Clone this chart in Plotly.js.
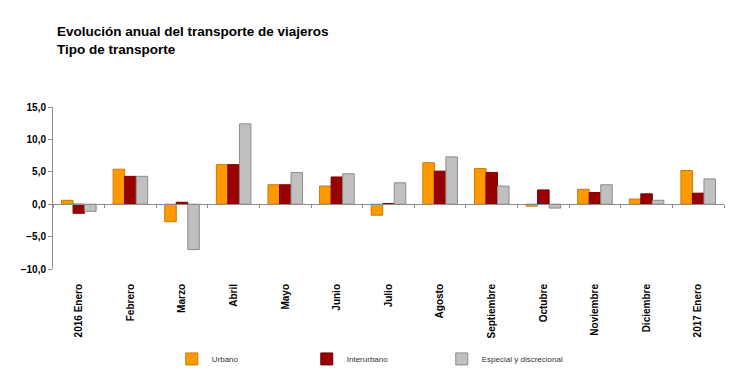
<!DOCTYPE html>
<html>
<head>
<meta charset="utf-8">
<script src="https://cdn.plot.ly/plotly-3.0.1.min.js"></script>
<style>html,body{margin:0;padding:0;background:#fff;}#chart{width:750px;height:386px;}</style>
</head>
<body>
<div id="chart"></div>
<script>
var categories = ["2016 Enero","Febrero","Marzo","Abril","Mayo","Junio","Julio","Agosto","Septiembre","Octubre","Noviembre","Diciembre","2017 Enero"];
var urbano      = [0.6, 5.4, -2.7, 6.1, 3.0, 2.8, -1.7, 6.4, 5.5, -0.3, 2.3, 0.8, 5.2];
var interurbano = [-1.4, 4.3, 0.3, 6.1, 3.0, 4.2, 0.1, 5.1, 4.9, 2.2, 1.8, 1.6, 1.7];
var especial    = [-1.1, 4.3, -7.0, 12.4, 4.9, 4.7, 3.3, 7.3, 2.8, -0.6, 3.0, 0.6, 3.9];
var seriesNames = ["Urbano", "Interurbano", "Especial y discrecional"];
var yTicks = [-10, -5, 0, 5, 10, 15];

var FONT = "Liberation Sans, Arial, sans-serif";

function barTrace(name, vals, fill, edge) {
  return {
    type: "bar", name: name, x: categories, y: vals,
    marker: {color: fill, line: {color: edge, width: 1}},
    hoverinfo: "x+y+name"
  };
}

var data = [
  barTrace(seriesNames[0], urbano, "#FF9900", "#C77A0A"),
  barTrace(seriesNames[1], interurbano, "#990000", "#7A0000"),
  barTrace(seriesNames[2], especial, "#C0C0C0", "#8C8C8C"),
  {type: "scatter", mode: "markers", x: categories, y: categories.map(function(){return null;}),
   xaxis: "x2", yaxis: "y", showlegend: false, hoverinfo: "skip"}
];

var layout = {
  width: 750, height: 386,
  paper_bgcolor: "#ffffff", plot_bgcolor: "#ffffff",
  separators: ",.",
  font: {family: FONT, color: "#000000"},
  margin: {l: 53, r: 26, t: 107, b: 115, pad: 0},
  title: {
    text: "Evolución anual del transporte de viajeros<br>Tipo de transporte",
    font: {family: FONT, size: 13.5, color: "#000000", weight: "bold"},
    xref: "container", yref: "container",
    x: 57/750, xanchor: "left",
    y: 1 - 36/386, yanchor: "top"
  },
  barmode: "group",
  bargap: 0.33, bargroupgap: 0,
  xaxis: {
    type: "category", categoryarray: categories, categoryorder: "array",
    range: [-0.5, 12.5],
    showline: false, zeroline: false, showgrid: false,
    ticks: "", tickangle: -90,
    ticklabelstandoff: 12,
    tickfont: {family: FONT, size: 10, color: "#000000", weight: "bold"}
  },
  xaxis2: {
    type: "category", categoryarray: categories, categoryorder: "array",
    range: [-0.5, 12.5],
    overlaying: "x", anchor: "free", position: 0.4,
    showline: true, linecolor: "#8C8C8C", linewidth: 1,
    showgrid: false, zeroline: false,
    ticks: "outside", tickson: "boundaries", ticklen: 3, tickcolor: "#8C8C8C", tickwidth: 1,
    showticklabels: false
  },
  yaxis: {
    range: [-10, 15], tickvals: yTicks, tickformat: ".1f",
    showline: true, linecolor: "#8C8C8C", linewidth: 1,
    ticks: "outside", ticklen: 4, tickcolor: "#8C8C8C",
    showgrid: false, zeroline: false,
    tickfont: {family: FONT, size: 10, color: "#000000", weight: "bold"}
  },
  showlegend: true,
  legend: {
    orientation: "h",
    x: 0.177, xanchor: "left",
    y: -0.555, yanchor: "middle",
    entrywidth: 90, entrywidthmode: "pixels",
    font: {family: FONT, size: 8, color: "#333333"},
    bgcolor: "rgba(0,0,0,0)",
    traceorder: "normal"
  }
};

Plotly.newPlot("chart", data, layout, {staticPlot: true, displayModeBar: false});
</script>
</body>
</html>
